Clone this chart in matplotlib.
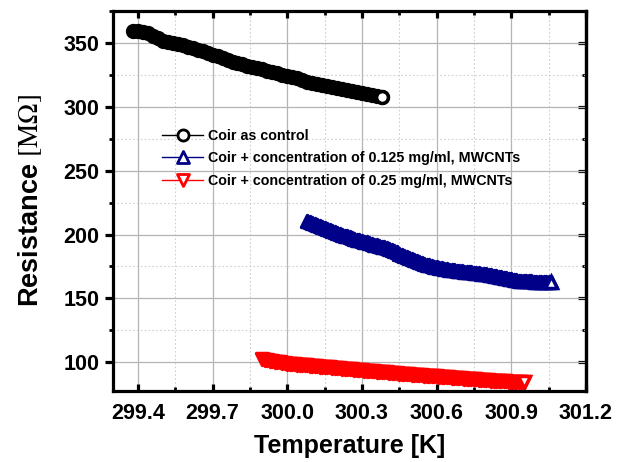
import matplotlib
matplotlib.use("Agg")
import matplotlib.pyplot as plt
from matplotlib.markers import MarkerStyle
from matplotlib.ticker import MultipleLocator

plt.rcParams['font.family'] = ['Liberation Sans', 'DejaVu Sans']
plt.rcParams['mathtext.fontset'] = 'stix'

# Coir as control
temp_control = [299.38, 299.40, 299.42, 299.44, 299.46, 299.48, 299.50, 299.52, 299.54, 299.56,
                299.58, 299.60, 299.62, 299.64, 299.66, 299.68, 299.70, 299.72, 299.74, 299.76,
                299.78, 299.80, 299.82, 299.84, 299.86, 299.88, 299.90, 299.92, 299.94, 299.96,
                299.98, 300.00, 300.02, 300.04, 300.06, 300.08, 300.10, 300.12, 300.14, 300.16,
                300.18, 300.20, 300.22, 300.24, 300.26, 300.28, 300.30, 300.32, 300.34, 300.36,
                300.38]
res_control = [359.5, 359.3, 358.8, 357.5, 355.5, 353.5, 351.8, 350.6, 349.8, 349.0,
               348.0, 347.0, 345.9, 344.8, 343.6, 342.3, 340.9, 339.5, 338.0, 336.6,
               335.3, 334.2, 333.2, 332.3, 331.3, 330.3, 329.2, 328.2, 327.2, 326.2,
               325.2, 324.2, 323.2, 322.2, 321.0, 319.8, 318.7, 317.7, 316.8, 316.0,
               315.3, 314.6, 313.9, 313.2, 312.5, 311.8, 311.1, 310.4, 309.6, 308.8,
               308.0]

# Coir + 0.125 mg/ml MWCNTs
temp_125 = [300.08, 300.09, 300.10, 300.11, 300.12, 300.13, 300.14, 300.15, 300.16, 300.17,
            300.18, 300.19, 300.20, 300.21, 300.22, 300.23, 300.24, 300.25, 300.26, 300.27,
            300.28, 300.29, 300.30, 300.31, 300.32, 300.33, 300.34, 300.35, 300.36, 300.37,
            300.38, 300.39, 300.40, 300.41, 300.42, 300.43, 300.44, 300.45, 300.46, 300.47,
            300.48, 300.49, 300.50, 300.51, 300.52, 300.53, 300.54, 300.55, 300.56, 300.57,
            300.58, 300.59, 300.60, 300.61, 300.62, 300.63, 300.64, 300.65, 300.66, 300.67,
            300.68, 300.69, 300.70, 300.71, 300.72, 300.73, 300.74, 300.75, 300.76, 300.77,
            300.78, 300.79, 300.80, 300.81, 300.82, 300.83, 300.84, 300.85, 300.86, 300.87,
            300.88, 300.89, 300.90, 300.91, 300.92, 300.93, 300.94, 300.95, 300.96, 300.97,
            300.98, 300.99, 301.00, 301.01, 301.02, 301.03, 301.04, 301.05, 301.06]
res_125 = [210.5, 209.8, 209.0, 208.3, 207.5, 206.8, 206.0, 205.1, 204.3, 203.5,
           202.7, 201.9, 201.2, 200.5, 199.8, 199.1, 198.5, 197.9, 197.3, 196.6,
           196.0, 195.4, 194.8, 194.3, 193.8, 193.2, 192.7, 192.1, 191.6, 191.0,
           190.5, 189.9, 189.3, 188.6, 187.8, 186.9, 186.0, 185.1, 184.2, 183.3,
           182.4, 181.5, 180.6, 179.8, 179.0, 178.3, 177.6, 177.0, 176.4, 175.8,
           175.3, 174.8, 174.3, 173.9, 173.5, 173.1, 172.8, 172.5, 172.2, 171.9,
           171.7, 171.4, 171.2, 171.0, 170.8, 170.5, 170.3, 170.1, 169.9, 169.6,
           169.4, 169.1, 168.9, 168.6, 168.3, 167.9, 167.5, 167.1, 166.6, 166.1,
           165.6, 165.2, 164.8, 164.5, 164.2, 164.0, 163.8, 163.6, 163.5, 163.4,
           163.3, 163.2, 163.1, 163.0, 162.9, 162.8, 162.7, 162.6, 162.5]

# Coir + 0.25 mg/ml MWCNTs
temp_25 = [299.90, 299.91, 299.92, 299.93, 299.94, 299.95, 299.96, 299.97, 299.98, 299.99,
           300.00, 300.01, 300.02, 300.03, 300.04, 300.05, 300.06, 300.07, 300.08, 300.09,
           300.10, 300.11, 300.12, 300.13, 300.14, 300.15, 300.16, 300.17, 300.18, 300.19,
           300.20, 300.21, 300.22, 300.23, 300.24, 300.25, 300.26, 300.27, 300.28, 300.29,
           300.30, 300.31, 300.32, 300.33, 300.34, 300.35, 300.36, 300.37, 300.38, 300.39,
           300.40, 300.41, 300.42, 300.43, 300.44, 300.45, 300.46, 300.47, 300.48, 300.49,
           300.50, 300.51, 300.52, 300.53, 300.54, 300.55, 300.56, 300.57, 300.58, 300.59,
           300.60, 300.61, 300.62, 300.63, 300.64, 300.65, 300.66, 300.67, 300.68, 300.69,
           300.70, 300.71, 300.72, 300.73, 300.74, 300.75, 300.76, 300.77, 300.78, 300.79,
           300.80, 300.81, 300.82, 300.83, 300.84, 300.85, 300.86, 300.87, 300.88, 300.89,
           300.90, 300.91, 300.92, 300.93, 300.94, 300.95]
res_25 = [102.5, 102.0, 101.6, 101.2, 100.8, 100.5, 100.2, 99.9, 99.6, 99.3,
          99.0, 98.8, 98.6, 98.4, 98.2, 98.0, 97.9, 97.7, 97.5, 97.3,
          97.2, 97.0, 96.8, 96.6, 96.5, 96.3, 96.1, 95.9, 95.8, 95.6,
          95.4, 95.2, 95.1, 94.9, 94.7, 94.5, 94.4, 94.2, 94.0, 93.8,
          93.7, 93.5, 93.3, 93.1, 93.0, 92.8, 92.6, 92.4, 92.3, 92.1,
          92.0, 91.8, 91.7, 91.5, 91.3, 91.1, 91.0, 90.8, 90.7, 90.5,
          90.4, 90.2, 90.1, 89.9, 89.8, 89.6, 89.5, 89.3, 89.2, 89.0,
          88.9, 88.7, 88.6, 88.4, 88.3, 88.1, 88.0, 87.8, 87.7, 87.5,
          87.4, 87.2, 87.1, 86.9, 86.8, 86.6, 86.5, 86.4, 86.3, 86.1,
          86.0, 85.8, 85.7, 85.6, 85.5, 85.3, 85.2, 85.1, 85.0, 84.9,
          84.8, 84.6, 84.5, 84.4, 84.3, 84.2]

labels = ["Coir as control",
          "Coir + concentration of 0.125 mg/ml, MWCNTs",
          "Coir + concentration of 0.25 mg/ml, MWCNTs"]
colors = ["black", "#000088", "red"]
markers = ["o", "^", "v"]
sizes = [8.5, 9, 9]

fig = plt.figure(figsize=(6.19, 4.62), dpi=100)
ax = fig.add_axes([0.1826, 0.1537, 0.7641, 0.8225])

series = [(temp_control, res_control), (temp_125, res_125), (temp_25, res_25)]
for (xs, ys), c, m, s, lab in zip(series, colors, markers, sizes, labels):
    mk = MarkerStyle(m, joinstyle="round")
    ax.plot(xs, ys, color=c, lw=1, marker=mk, ms=s, mew=2.5, mfc=c, mec=c, label=lab)
    # last point drawn hollow, as in the original
    ax.plot(xs[-1], ys[-1], ls="none", marker=m, ms=s, mew=2.5, mfc="white", mec=c)

ax.set_xlim(299.3, 301.2)
ax.set_ylim(77.5, 375)
ax.xaxis.set_major_locator(MultipleLocator(0.3))
ax.xaxis.set_minor_locator(MultipleLocator(0.15))
ax.yaxis.set_major_locator(MultipleLocator(50))
ax.yaxis.set_minor_locator(MultipleLocator(25))
ax.xaxis.set_major_formatter(plt.FormatStrFormatter("%.1f"))

ax.grid(True, which="major", color="#b4b4b4", lw=0.9)
ax.grid(True, which="minor", color="#d0d0d0", lw=0.8, ls=(0, (1.5, 2)))
ax.set_axisbelow(True)

for s in ax.spines.values():
    s.set_linewidth(2.3)

ax.tick_params(axis="x", which="both", direction="in", top=True, bottom=True,
               labelsize=15.5, pad=9)
ax.tick_params(axis="x", which="major", length=5, width=2.3)
ax.tick_params(axis="x", which="minor", length=3, width=2)
ax.tick_params(axis="y", which="both", direction="out", left=True, right=False,
               labelsize=15.5, pad=4)
ax.tick_params(axis="y", which="major", length=6, width=2.3)
ax.tick_params(axis="y", which="minor", length=3, width=2)
for lab in ax.get_xticklabels() + ax.get_yticklabels():
    lab.set_fontweight("bold")

sec = ax.secondary_yaxis("right")
sec.yaxis.set_major_locator(MultipleLocator(50))
sec.yaxis.set_minor_locator(MultipleLocator(25))
sec.tick_params(axis="y", which="both", direction="in", labelright=False)
sec.tick_params(axis="y", which="major", length=6, width=2.3)
sec.tick_params(axis="y", which="minor", length=3, width=2)
sec.spines["right"].set_linewidth(2.3)

ax.set_xlabel("Temperature [K]", fontsize=18, fontweight="bold", labelpad=7)
ax.set_ylabel(r"Resistance $[\mathrm{M\Omega}]$", fontsize=19.5, fontweight="bold", labelpad=14)

leg = ax.legend(loc="upper left", bbox_to_anchor=(0.091, 0.705), frameon=False,
                fontsize=10.3, handlelength=2.9, handletextpad=0.35, labelspacing=0.6,
                borderaxespad=0)
for t in leg.get_texts():
    t.set_fontweight("bold")
for h in leg.legend_handles:
    h.set_markersize(8)
    h.set_markeredgewidth(2)
    h.set_markerfacecolor("white")

fig.savefig("out.png", dpi=100)
